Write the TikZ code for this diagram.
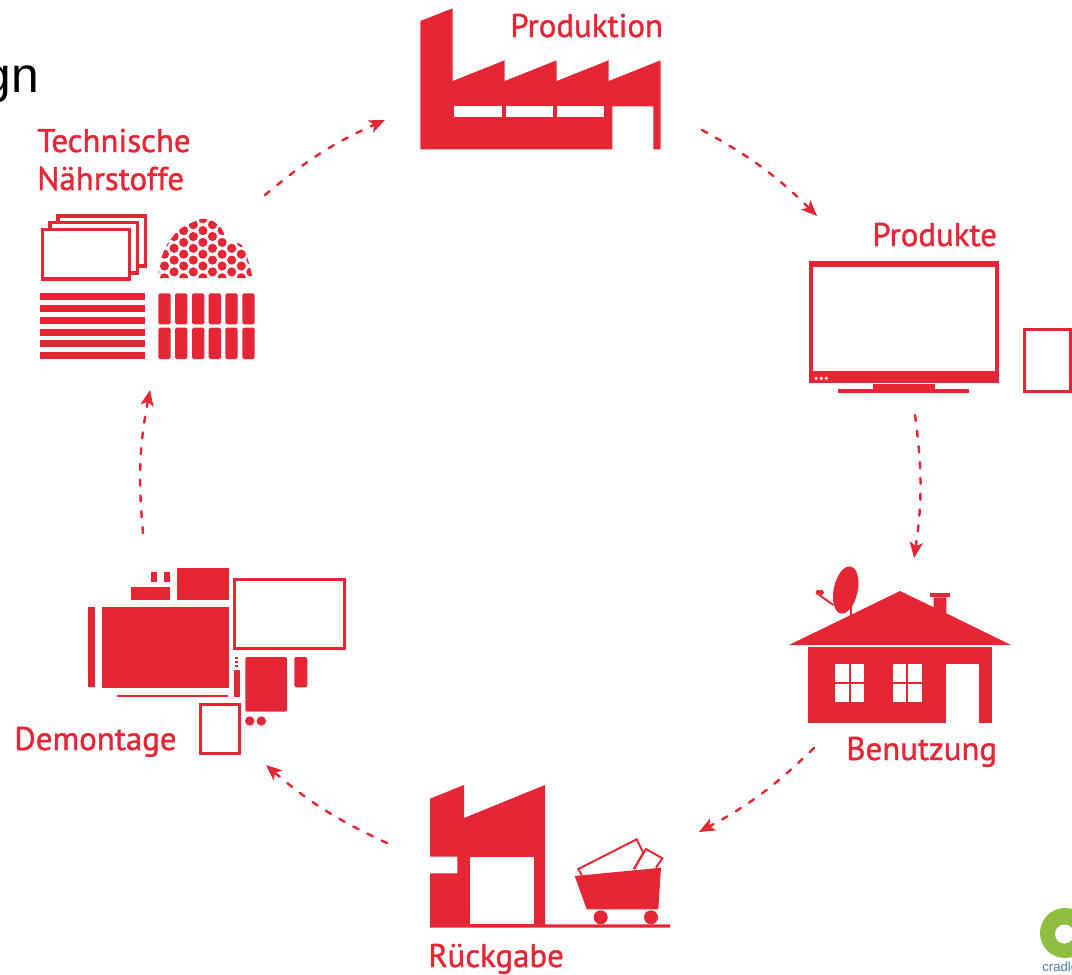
\documentclass[tikz,border=0pt]{standalone}
\usepackage{fontspec}
\setmainfont{Liberation Sans}
\newfontfamily\labelfont{PT Sans}[FakeBold=1.2]
\usetikzlibrary{arrows.meta}
\definecolor{cycred}{HTML}{E52635}
\definecolor{cycgreen}{HTML}{8DBE3F}
\definecolor{cycblue}{HTML}{4A7FA5}
\tikzset{
	redfill/.style={fill=cycred,draw=none},
	whitefill/.style={fill=white,draw=none},
	redline/.style={draw=cycred,line width=1.8pt},
	thinline/.style={draw=cycred,line width=1.1pt},
	roundfill/.style={fill=cycred,draw=none,rounded corners=0.9pt},
	steplabel/.style={anchor=base west,inner sep=0pt,text=cycred,font=\labelfont\fontsize{18.7}{20}\selectfont},
	cycle/.style={draw=cycred,line width=1.4pt,line cap=round,dash pattern=on 3.4pt off 5.6pt,
		-{Stealth[length=9pt,width=7.5pt,inset=2.2pt]}},
}
\begin{document}
\begin{tikzpicture}[x=0.02cm,y=-0.02cm]
	\useasboundingbox (0,0) rectangle (1072,974);
	\clip (0,0) rectangle (1072,974);
	% title rest
	\node[anchor=base east,inner sep=0pt,font=\fontsize{28.3}{30}\selectfont] (title) at (39.5,92) {gn};
	% labels
	\node[steplabel] (produktion) at (510,37) {Produktion};
	\node[steplabel] (produkte) at (872,246) {Produkte};
	\node[steplabel] (benutzung) at (846,760) {Benutzung};
	\node[steplabel] (rueckgabe) at (428,967) {Rückgabe};
	\node[steplabel] (demontage) at (14,750) {Demontage};
	\node[steplabel] (technische) at (37,152) {Technische};
	\node[steplabel] (naehrstoffe) at (37,190) {Nährstoffe};
	% factory
	\fill[redfill] (420.3,21)--(452.7,8.3)--(452.7,81)--(504.7,60.3)--(504.7,81)--(556.7,60.3)--(556.7,81)
		--(608.7,60.3)--(608.7,81)--(660.7,60.3)--(660.7,149.3)--(653.3,149.3)--(653.3,106.3)
		--(612.3,106.3)--(612.3,149.3)--(420.3,149.3)--cycle;
	\fill[whitefill] (454.3,106.3) rectangle (501.7,116.7);
	\fill[whitefill] (506,106.3) rectangle (553,116.7);
	\fill[whitefill] (557.3,106.3) rectangle (604.3,116.7);
	% monitor and tablet
	\fill[redfill] (809,260.7) rectangle (999.3,383.3);
	\fill[whitefill] (813,266.7) rectangle (995,370.7);
	\foreach \x in {816,821.3,826.3}
		\fill[whitefill] (\x,378.3) circle (1pt);
	\fill[redfill] (873,384) rectangle (934.7,389);
	\fill[redfill] (838.3,389) rectangle (969.3,393.3);
	\draw[redline] (1024.2,329.8) rectangle (1070.4,391.3);
	% house
	\fill[redfill] (789,645)--(900,591)--(933.7,607.3)--(933.7,597.3)--(946.3,597.3)--(946.3,613.3)--(1011,645)--cycle;
	\fill[redfill] (930,593.3) rectangle (950,597);
	\fill[redfill] (807.7,647.3) rectangle (992.3,723);
	\fill[whitefill] (946.3,664.3) rectangle (979.3,723);
	\foreach \x/\xx in {835.3/849,851/864.3,893.3/906.3,908.3/921.7}
		\foreach \y/\yy in {664.3/681.7,684/701.7}
			\fill[whitefill] (\x,\y) rectangle (\xx,\yy);
	\fill[redfill] (845.7,590) ellipse [x radius=12,y radius=24,rotate=-12];
	\draw[thinline] (833.3,605)--(819.3,595);
	\fill[redfill] (818.3,592.5) circle (1.5pt);
	\fill[redfill] (821.3,592.5) circle (1.5pt);
	\draw[thinline] (850.7,607)--(850.7,615);
	% return factory and cart
	\fill[redfill] (430,798.7)--(464,785)--(464,818)--(545,785)--(545,924.3)--(670,924.3)--(670,927.7)
		--(430,927.7)--(430,873.3)--(457.3,873.3)--(457.3,856.7)--(430,856.7)--cycle;
	\fill[whitefill] (470.3,856.7) rectangle (534.3,924.3);
	\fill[redfill] (574.7,876)--(661,867.7)--(658.3,909.3)--(586.7,909.3)--cycle;
	\fill[redfill] (600.7,917.3) circle (7);
	\fill[redfill] (651,917.3) circle (7);
	\draw[thinline] (581.7,875)--(578.3,869)--(636.7,839.3)--(643.3,852.7)--(634,869);
	\draw[thinline] (634,869)--(646,849)--(662.3,858.3)--(656,867.7);
	% parts
	\fill[redfill] (150.7,572.3) rectangle (157,582);
	\fill[redfill] (163.7,572.3) rectangle (169.7,582);
	\fill[redfill] (131.3,587) rectangle (170.3,600.3);
	\fill[redfill] (177,568) rectangle (228.7,600.3);
	\draw[redline] (234.5,579.2) rectangle (344.2,648.2);
	\fill[redfill] (101.7,607) rectangle (228.7,688.3);
	\fill[redfill] (87.7,607) rectangle (94.7,687.3);
	\fill[redfill] (116.7,694.7) rectangle (228,697);
	\foreach \y in {657.3,661,664.7}
		\fill[redfill] (234.5,\y) rectangle (237.7,\y+2);
	\fill[redfill] (234,670.3) rectangle (240,697);
	\fill[roundfill] (245.3,657) rectangle (287,711.7);
	\fill[roundfill] (294.3,657) rectangle (307.3,687.3);
	\fill[redfill] (249.7,721) circle (4.7);
	\fill[redfill] (261.3,721) circle (4.7);
	\draw[redline] (200.2,704.2) rectangle (239.8,753.5);
	% materials
	\draw[redline] (42.5,229.5) rectangle (129.5,279);
	\draw[redline] (50,229)--(50,222.5)--(137.5,222.5)--(137.5,273)--(130,273);
	\draw[redline] (58,222)--(58,216)--(145.5,216)--(145.5,266)--(138,266);
	\foreach \y/\yy in {293.3/300,305/312,317/323.7,328.7/335.7,340.3/347.3,352.3/359}
		\fill[redfill] (40,\y) rectangle (145,\yy);
	\foreach \x/\xx in {158.3/170.7,175/187.3,192/204.3,208.7/221,225.3/237.7,242.3/254.7}
		\foreach \y/\yy in {293.3/324.3,327.7/359}
			\fill[roundfill] (\x,\y) rectangle (\xx,\yy);
	\begin{scope}
		\clip plot[smooth] coordinates {(158.3,278) (160,262) (166.7,245.3) (178.3,230.3) (193.3,222) (203.3,218.7)
			(213.3,221.3) (221.7,228.7) (228.3,242) (240,243.7) (246.7,255.3) (252.7,278)} --cycle;
		\foreach \k in {-4,...,7}
			\foreach \j in {-1,...,5}
				\fill[redfill] ({193.3+9.6*\k},{224.7+11.8*\j+5.9*mod(\k+4,2)}) circle (4.6);
	\end{scope}
	% logo
	\fill[cycgreen] (1065,933) circle (25);
	\fill[white] (1064.5,934) circle (9.5);
	\node[anchor=base west,inner sep=0pt,text=cycblue,font=\fontsize{7.5}{8}\selectfont] (cradle) at (1042,971) {cradle};
	% cycle arrows
	\coordinate (stoffeOut) at (265,195);
	\coordinate (produktionIn) at (385,120);
	\coordinate (produktionOut) at (702,130);
	\coordinate (produkteIn) at (817,216);
	\coordinate (produkteOut) at (915,415);
	\coordinate (benutzungIn) at (914,558);
	\coordinate (benutzungOut) at (814,748);
	\coordinate (rueckgabeIn) at (699,832);
	\coordinate (rueckgabeOut) at (387,843);
	\coordinate (demontageIn) at (266,765);
	\coordinate (demontageOut) at (143,533);
	\coordinate (stoffeIn) at (150,390);
	\draw[cycle] (stoffeOut) to[bend left=8] (produktionIn);
	\draw[cycle] (produktionOut) to[bend left=8] (produkteIn);
	\draw[cycle] (produkteOut) to[bend left=8] (benutzungIn);
	\draw[cycle] (benutzungOut) to[bend left=8] (rueckgabeIn);
	\draw[cycle] (rueckgabeOut) to[bend left=8] (demontageIn);
	\draw[cycle] (demontageOut) to[bend left=8] (stoffeIn);
\end{tikzpicture}
\end{document}
